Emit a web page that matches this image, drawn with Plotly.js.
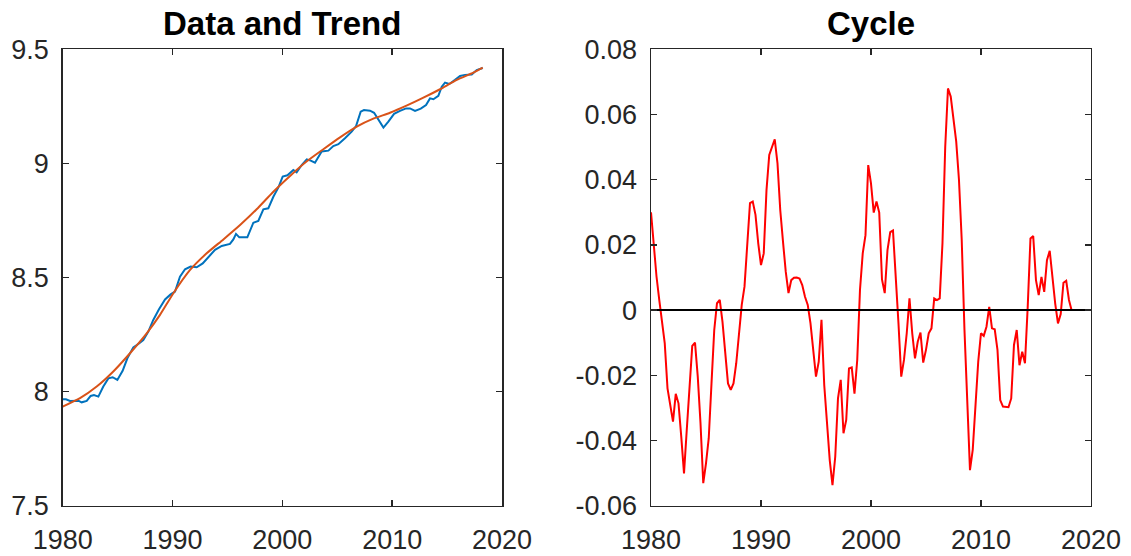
<!DOCTYPE html>
<html>
<head>
<meta charset="utf-8">
<script src="https://cdn.plot.ly/plotly-3.0.1.min.js"></script>
<style>html,body{margin:0;padding:0;background:#fff;}#chart{width:1131px;height:556px;}</style>
</head>
<body>
<div id="chart"></div>
<script>
// ---- data ----
const dataYears = [1980.0,1980.3,1980.67,1981.43,1981.73,1982.19,1982.55,1982.85,1983.25,1983.7,1984.16,1984.55,1984.98,1985.46,1985.89,1986.43,1986.98,1987.34,1987.8,1988.25,1988.77,1989.32,1989.83,1990.23,1990.68,1991.14,1991.65,1992.2,1992.75,1993.26,1993.87,1994.48,1995.23,1995.54,1995.78,1996.08,1996.81,1997.36,1997.81,1998.27,1998.72,1999.18,1999.64,2000.03,2000.46,2001.0,2001.3,2001.76,2002.22,2002.58,2002.97,2003.58,2004.19,2004.64,2005.1,2005.7,2006.31,2006.71,2007.13,2007.43,2007.98,2008.35,2008.74,2009.2,2009.65,2010.17,2010.71,2011.26,2011.62,2012.08,2012.6,2013.08,2013.44,2013.75,2014.2,2014.51,2014.81,2015.2,2015.72,2016.18,2016.63,2017.24,2017.69,2018.24];
const dataValues = [7.966,7.966,7.959,7.960,7.953,7.959,7.981,7.985,7.978,8.022,8.058,8.063,8.051,8.091,8.146,8.194,8.212,8.226,8.263,8.314,8.361,8.404,8.426,8.438,8.504,8.536,8.548,8.545,8.562,8.591,8.621,8.638,8.647,8.667,8.691,8.676,8.676,8.740,8.748,8.799,8.803,8.854,8.895,8.942,8.948,8.971,8.961,8.993,9.018,9.012,9.003,9.052,9.056,9.076,9.084,9.110,9.139,9.164,9.227,9.234,9.231,9.222,9.190,9.157,9.183,9.217,9.230,9.241,9.241,9.230,9.240,9.256,9.285,9.281,9.296,9.336,9.354,9.348,9.366,9.383,9.388,9.390,9.409,9.418];

const trendYears = [1980.0,1981.58,1983.1,1984.61,1986.13,1987.65,1988.86,1990.08,1991.6,1993.11,1994.63,1996.15,1997.66,1999.18,2000.7,2002.2,2003.73,2005.25,2006.77,2008.28,2009.8,2011.3,2012.84,2014.35,2015.87,2017.39,2018.24];
const trendValues = [7.934,7.971,8.022,8.088,8.168,8.255,8.336,8.431,8.533,8.606,8.667,8.730,8.799,8.876,8.945,9.008,9.062,9.114,9.161,9.196,9.222,9.253,9.288,9.325,9.366,9.398,9.420];

// quarterly cycle, 1980Q1 onward
const cycleStartYear = 1980;
const cycleValues = [0.030,0.020,0.0103,0.0031,-0.003,-0.0102,-0.024,-0.0286,-0.0342,-0.0257,-0.0286,-0.0388,-0.0501,-0.0368,-0.0225,-0.011,-0.0100,-0.0204,-0.0347,-0.0531,-0.047,-0.0393,-0.0225,-0.0061,0.0021,0.0031,-0.0036,-0.0143,-0.0225,-0.0245,-0.0225,-0.0163,-0.0071,0.0016,0.0072,0.0205,0.0328,0.0333,0.0292,0.0205,0.0138,0.0174,0.0368,0.0476,0.0503,0.0524,0.045,0.0307,0.021,0.0118,0.0052,0.0092,0.0099,0.0100,0.0097,0.0077,0.0041,0.0016,-0.0041,-0.0122,-0.0204,-0.0158,-0.003,-0.023,-0.0358,-0.046,-0.0537,-0.045,-0.0271,-0.0214,-0.0378,-0.0337,-0.0179,-0.0176,-0.0256,-0.0153,0.0062,0.0174,0.023,0.0445,0.0389,0.0299,0.0333,0.0299,0.0094,0.0052,0.0184,0.0239,0.0244,0.0108,-0.0041,-0.0204,-0.0153,-0.0071,0.0036,-0.0071,-0.0148,-0.0097,-0.0069,-0.0161,-0.0122,-0.0071,-0.0056,0.0036,0.0031,0.0036,0.0205,0.0501,0.068,0.0655,0.0583,0.0517,0.0399,0.0215,-0.0061,-0.0291,-0.0491,-0.0429,-0.0276,-0.0158,-0.0071,-0.0079,-0.0051,0.001,-0.0056,-0.0059,-0.0122,-0.0276,-0.0296,-0.0298,-0.0298,-0.0271,-0.0107,-0.0061,-0.0169,-0.0128,-0.0163,0.001,0.022,0.0227,0.0092,0.0046,0.0102,0.0056,0.0153,0.0182,0.0092,0.002,-0.0041,-0.0012,0.0084,0.009,0.0031,-0.0002];

const xTicks = [1980,1990,2000,2010,2020];
const xTickText = ['1980','1990','2000','2010','2020'];
const y1Ticks = [7.5,8,8.5,9,9.5];
const y1TickText = ['7.5','8','8.5','9','9.5'];
const y2Ticks = [-0.06,-0.04,-0.02,0,0.02,0.04,0.06,0.08];
const y2TickText = ['-0.06','-0.04','-0.02','0','0.02','0.04','0.06','0.08'];
const titles = ['Data and Trend','Cycle'];

// ---- build ----
const cycleYears = cycleValues.map((_, i) => cycleStartYear + i / 4);

const FONT = 'Liberation Sans, Arial, Helvetica, sans-serif';
const AX = '#262626';

const traces = [
  {x: dataYears, y: dataValues, xaxis:'x', yaxis:'y', mode:'lines', line:{color:'#0072BD', width:2}, hoverinfo:'skip'},
  {x: trendYears, y: trendValues, xaxis:'x', yaxis:'y', mode:'lines', line:{color:'#D95319', width:2, shape:'spline', smoothing:0.6}, hoverinfo:'skip'},
  {x: cycleYears, y: cycleValues, xaxis:'x2', yaxis:'y2', mode:'lines', line:{color:'#FF0000', width:2}, hoverinfo:'skip'},
  {x: [xTicks[0], xTicks[xTicks.length-1]], y: [0, 0], xaxis:'x2', yaxis:'y2', mode:'lines', line:{color:'#000000', width:2}, hoverinfo:'skip'}
];

function axisBase(extra) {
  return Object.assign({
    showgrid:false, zeroline:false, showline:true, mirror:'ticks',
    linecolor:AX, linewidth:1.5, ticks:'inside', ticklen:6, tickwidth:1.5, tickcolor:AX,
    tickfont:{family:FONT, size:27, color:AX}, fixedrange:true
  }, extra);
}

const yDom = [0.0905, 0.9113];
const x1Dom = [0.0554, 0.4439];
const x2Dom = [0.5756, 0.9646];

const layout = {
  width:1131, height:556,
  margin:{l:0, r:0, t:0, b:0},
  paper_bgcolor:'#ffffff', plot_bgcolor:'#ffffff',
  showlegend:false,
  xaxis: axisBase({domain:x1Dom, range:[1980,2020], tickvals:xTicks, ticktext:xTickText, anchor:'y', ticklabelstandoff:9}),
  yaxis: axisBase({domain:yDom, range:[7.5,9.5], tickvals:y1Ticks, ticktext:y1TickText, anchor:'x', ticklabelstandoff:7}),
  xaxis2: axisBase({domain:x2Dom, range:[1980,2020], tickvals:xTicks, ticktext:xTickText, anchor:'y2', ticklabelstandoff:9}),
  yaxis2: axisBase({domain:yDom, range:[-0.06,0.08], tickvals:y2Ticks, ticktext:y2TickText, anchor:'x2', ticklabelstandoff:7}),
  annotations: [
    {text:'<b>'+titles[0]+'</b>', xref:'paper', yref:'paper', x:(x1Dom[0]+x1Dom[1])/2, y:0.958, xanchor:'center', yanchor:'middle', showarrow:false, font:{family:FONT, size:33, color:'#000'}},
    {text:'<b>'+titles[1]+'</b>', xref:'paper', yref:'paper', x:(x2Dom[0]+x2Dom[1])/2, y:0.958, xanchor:'center', yanchor:'middle', showarrow:false, font:{family:FONT, size:33, color:'#000'}}
  ]
};

Plotly.newPlot('chart', traces, layout, {displayModeBar:false, staticPlot:true});
</script>
</body>
</html>
